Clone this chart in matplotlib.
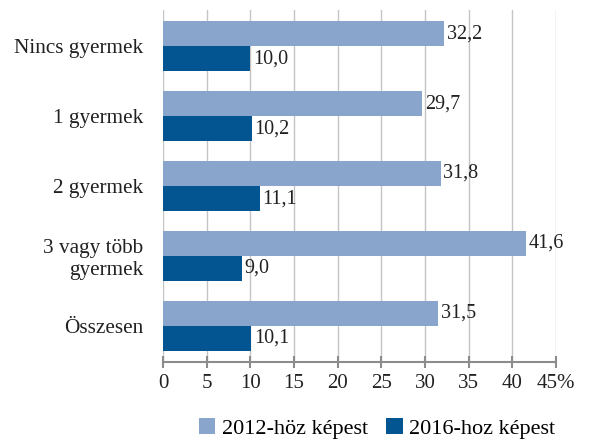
import numpy as np
import matplotlib
matplotlib.use("Agg")
import matplotlib.pyplot as plt
from matplotlib.patches import Patch

plt.rcParams["font.family"] = ["Liberation Serif", "DejaVu Serif"]

categories = ["Nincs gyermek", "1 gyermek", "2 gyermek", "3 vagy több\ngyermek", "Összesen"]
vals_2012 = [32.2, 29.7, 31.8, 41.6, 31.5]
vals_2016 = [10.0, 10.2, 11.1, 9.0, 10.1]
series_labels = ["2012-höz képest", "2016-hoz képest"]
xticks = [0, 5, 10, 15, 20, 25, 30, 35, 40, 45]
xtick_labels = ["0", "5", "10", "15", "20", "25", "30", "35", "40", "45%"]

c_light = "#8aa5cc"
c_dark = "#035592"

fig = plt.figure(figsize=(5.92, 4.41), dpi=100)
ax = fig.add_axes([163 / 592, 1 - 362 / 441, (556 - 163) / 592, (362 - 10) / 441])

y = np.arange(len(categories))
h = 0.36
ax.barh(y - h / 2, vals_2012, height=h, color=c_light, zorder=3)
ax.barh(y + h / 2, vals_2016, height=h, color=c_dark, zorder=3)

fs = 14.5
for yi, v in zip(y, vals_2012):
    ax.text(v + 0.3, yi - h / 2, f"{v:.1f}".replace(".", ","), va="center", ha="left",
            fontsize=fs, color="#222222")
for yi, v in zip(y, vals_2016):
    ax.text(v + 0.3, yi + h / 2, f"{v:.1f}".replace(".", ","), va="center", ha="left",
            fontsize=fs, color="#222222")

ax.set_xlim(0, 45)
ax.set_ylim(4.52, -0.52)
ax.set_xticks(xticks)
ax.set_xticklabels(xtick_labels, fontsize=15, color="#222222")
ax.set_yticks(y)
ax.set_yticklabels(categories, fontsize=15.3, color="#222222")
ax.tick_params(axis="y", length=0, pad=14)
ax.tick_params(axis="x", length=9, width=1.5, color="#8c8c8c", direction="inout", pad=4)

ax.grid(axis="x", color="#c4c4c4", lw=1.0, zorder=0)
for s in ["top", "right", "left"]:
    ax.spines[s].set_visible(False)
ax.spines["bottom"].set_color("#8c8c8c")
ax.spines["bottom"].set_linewidth(1.5)

handles = [Patch(facecolor=c_light), Patch(facecolor=c_dark)]
fig.legend(handles, series_labels, loc="lower center", bbox_to_anchor=(0.637, -0.04),
           ncol=2, frameon=False, fontsize=16, handlelength=0.75, handleheight=0.75,
           handletextpad=0.3, columnspacing=0.8)

plt.savefig("out.png", dpi=100)
